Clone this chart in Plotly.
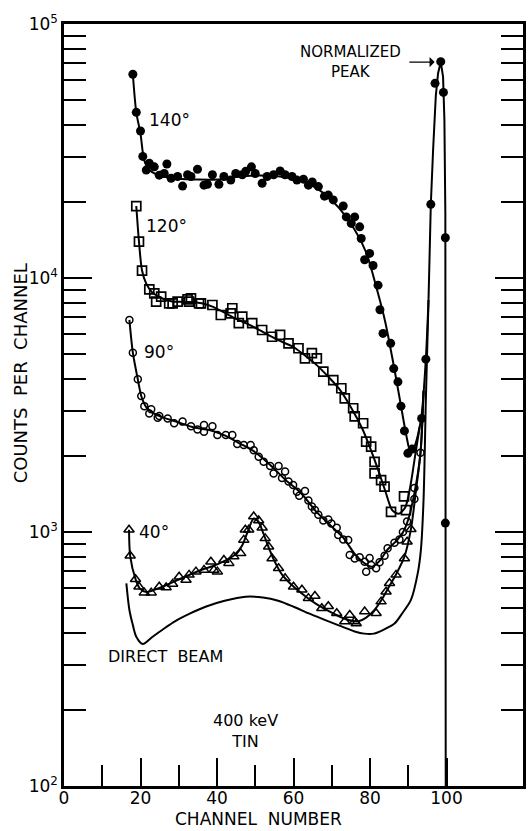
import plotly.graph_objects as go

# ---------------- data (channel, counts) ----------------
ch140 = [18.0, 18.9, 20.0, 20.6, 21.5, 22.3, 23.6, 24.9, 26.2, 26.9, 28.0, 29.7, 31.0, 32.3, 33.2,
         34.9, 36.6, 37.5, 38.8, 40.5, 41.8, 43.6, 44.9, 46.6, 47.5, 49.0, 50.0, 51.8, 53.1, 54.8,
         56.5, 57.8, 59.6, 60.9, 62.6, 63.9, 64.9, 66.5, 68.1, 69.1, 70.4, 73.0, 73.8, 75.1, 76.0,
         77.3, 77.7, 78.6, 79.9, 80.8, 82.1, 82.6, 83.4, 85.4, 86.2, 87.3, 88.1, 89.0, 89.9, 91.0,
         93.5, 94.6, 95.9, 97.0, 98.5, 99.2, 99.7, 99.7]
cnt140 = [63400, 44900, 37900, 30100, 26600, 28300, 27400, 25400, 25800, 28100, 24700, 25100, 23000,
          25500, 25100, 26800, 23200, 23400, 25500, 23400, 25100, 24300, 25800, 25500, 26300, 27400,
          25800, 23600, 25100, 25500, 26400, 25500, 25100, 24300, 24500, 23200, 23900, 22900, 21000,
          21200, 20300, 19200, 17400, 16400, 17400, 15900, 14300, 11800, 12500, 11200, 9370, 7500,
          6050, 5530, 4400, 3900, 3130, 2500, 2040, 2120, 2800, 4790, 19500, 58400, 71100, 53800,
          14400, 1084]

ch120 = [18.9, 19.6, 20.4, 22.3, 23.6, 24.1, 25.4, 27.5, 28.4, 29.7, 32.3, 32.7, 33.2, 35.3, 35.8,
         38.8, 41.0, 43.6, 44.0, 45.7, 46.6, 49.2, 51.8, 54.4, 56.5, 58.7, 61.3, 63.0, 64.8, 66.1,
         67.8, 70.4, 72.5, 73.4, 75.6, 76.0, 78.2, 79.0, 80.3, 81.2, 81.2, 82.9, 83.8, 85.5, 88.9, 89.4]
cnt120 = [19200, 13900, 10700, 9020, 8700, 8070, 8440, 7940, 7940, 8070, 8240, 8070, 8310, 7940, 7940,
          7830, 7150, 7260, 7600, 6640, 7050, 6640, 6240, 5870, 5970, 5530, 5290, 4830, 5060, 4830,
          4280, 3960, 3680, 3360, 3070, 2850, 2680, 2270, 2170, 1890, 1700, 1600, 1510, 1200, 1380, 1220]

ch90 = [17.1, 18.0, 19.3, 20.2, 21.0, 22.3, 22.8, 24.5, 24.9, 27.1, 28.8, 31.0, 33.2, 34.9, 36.6,
        36.6, 38.8, 40.1, 42.3, 44.0, 45.3, 47.0, 48.8, 49.6, 50.9, 52.2, 53.9, 54.8, 56.1, 57.0,
        57.8, 58.7, 59.9, 60.9, 61.5, 63.0, 63.9, 64.8, 65.6, 66.5, 67.8, 69.1, 69.9, 71.3, 71.7,
        73.0, 74.3, 74.7, 76.0, 77.3, 78.6, 79.0, 79.9, 80.3, 81.6, 82.5, 83.8, 84.6, 86.4, 87.7,
        88.6, 89.7, 91.6, 91.6, 93.2]
cnt90 = [6840, 5080, 3990, 3430, 3130, 2930, 3040, 2820, 2860, 2800, 2680, 2720, 2610, 2530, 2480,
         2640, 2610, 2410, 2410, 2410, 2220, 2200, 2200, 2100, 1980, 1890, 1820, 1700, 1820, 1630,
         1730, 1580, 1530, 1440, 1390, 1450, 1330, 1260, 1220, 1170, 1110, 1120, 1080, 1040, 973,
         935, 931, 811, 787, 795, 764, 698, 790, 741, 720, 760, 806, 863, 908, 935,
         1000, 1100, 1350, 1490, 2050]

ch40 = [17.0, 17.3, 18.7, 19.6, 21.0, 22.8, 24.9, 26.7, 28.4, 30.1, 31.9, 32.7, 34.5, 36.6, 38.4,
        39.2, 40.1, 41.8, 43.1, 44.4, 46.2, 47.0, 47.4, 48.3, 49.6, 50.9, 51.8, 52.6, 53.5, 54.4,
        56.1, 57.8, 60.0, 62.2, 63.9, 65.6, 67.4, 69.1, 71.3, 73.4, 74.7, 76.0, 76.4, 78.6, 81.6,
        82.9, 84.2, 85.1, 86.8, 89.0, 89.7, 90.7]
cnt40 = [1020, 806, 652, 609, 577, 577, 609, 605, 624, 667, 647, 678, 698, 708, 764,
         708, 698, 776, 754, 800, 824, 931, 1020, 1020, 1150, 1110, 1040, 944, 875, 787,
         720, 657, 609, 592, 549, 560, 501, 510, 479, 444, 471, 444, 436, 486, 479,
         532, 582, 628, 678, 787, 916, 1026]

# drawn curves
fit140_x = [18.0, 18.9, 20.0, 21.0, 22.5, 25, 30, 35, 40, 45, 50, 55, 60, 64, 68, 72, 76, 79,
            82, 84, 86, 88, 89.5, 90.5, 91.5, 92.5, 93.5, 94.6, 95.3]
fit140_y = [63400, 44900, 37000, 29000, 26500, 25300, 24600, 24400, 24400, 25000, 25300, 25200,
            24600, 23500, 21500, 18800, 15500, 12600, 8800, 6700, 4700, 3200, 2400, 2100, 2150,
            2400, 2900, 4800, 8200]
peak_x = [95.3, 95.9, 96.5, 97.2, 97.8, 98.5, 99.1, 99.45, 99.7, 99.75, 99.8]
peak_y = [8200, 19500, 32000, 52000, 64000, 71000, 62000, 42000, 18000, 3000, 80]
fit120_x = [18.9, 19.6, 20.4, 21.5, 23, 25, 28, 32, 36, 39, 42, 45, 48, 51, 54, 57, 60, 63, 66,
            69, 72, 75, 78, 80, 82, 84, 85.8, 87.5, 89.2, 90.5, 91.8, 93.0]
fit120_y = [19200, 13900, 10700, 9500, 8800, 8400, 8100, 8050, 7950, 7700, 7300, 6900, 6600, 6250,
            5900, 5600, 5350, 4950, 4550, 4100, 3650, 3100, 2550, 2150, 1780, 1450, 1220, 1180,
            1250, 1500, 2000, 2600]
fit90_x = [17.1, 18.0, 19.3, 20.2, 21.5, 23.5, 26, 30, 34, 38, 42, 46, 50, 54, 58, 62, 66, 70, 73,
           76, 78.5, 80.5, 82.5, 84.5, 86.5, 88.5, 90.0, 91.6, 93.2, 94.0]
fit90_y = [6840, 5080, 3990, 3430, 3100, 2930, 2820, 2700, 2580, 2520, 2400, 2230, 2060, 1830,
           1600, 1420, 1200, 1050, 950, 820, 755, 730, 770, 850, 910, 990, 1120, 1420, 2050, 3600]
fit40_x = [17.0, 17.3, 18.7, 19.8, 21.5, 24, 27, 30, 33, 36, 39, 42, 44.5, 46.5, 48, 49.6, 50.8,
           52, 53.5, 55, 57, 60, 63, 66, 69, 72, 75, 77, 79, 81, 83, 85, 87, 89, 90.7, 92, 93.2, 94.0]
fit40_y = [1020, 806, 652, 600, 580, 595, 620, 650, 680, 710, 735, 770, 810, 880, 1000, 1130, 1100,
           1000, 870, 770, 680, 610, 560, 520, 490, 465, 448, 445, 460, 490, 540, 610, 690, 800,
           1026, 1450, 2050, 3600]
beam_x = [16.3, 17.1, 18.0, 18.9, 20.6, 23, 26, 29, 33, 37, 42, 47.5, 52, 56, 60, 64, 68, 72, 76,
          78.5, 81, 83.5, 86.4, 88.5, 90.7, 92.5, 93.3, 94.0, 94.6, 95.3]
beam_y = [628, 493, 430, 387, 362, 385, 415, 445, 478, 508, 536, 556, 552, 536, 508, 478, 452, 428,
          406, 398, 398, 412, 436, 480, 540, 690, 849, 1340, 3310, 8200]

x_ticks = [0, 20, 40, 60, 80, 100]
x_ticklabels = ["0", "20", "40", "60", "80", "100"]
x_minor = [10, 30, 50, 70, 90]
y_ticks = [100, 1000, 10000, 100000]
y_ticklabels = ["10<sup>2</sup>", "10<sup>3</sup>", "10<sup>4</sup>", "10<sup>5</sup>"]
y_minor = [m * d for d in (100, 1000, 10000) for m in range(2, 10)]

FONT = "DejaVu Sans"
fig = go.Figure()

line_style = dict(color="black", width=2)
for fx, fy in [(fit140_x, fit140_y), (fit120_x, fit120_y), (fit90_x, fit90_y),
               (fit40_x, fit40_y), (beam_x, beam_y)]:
    fig.add_trace(go.Scatter(x=fx, y=fy, mode="lines",
                             line=dict(shape="spline", smoothing=0.8, **line_style),
                             hoverinfo="skip", showlegend=False))
fig.add_trace(go.Scatter(x=peak_x, y=peak_y, mode="lines", line=line_style, showlegend=False))

fig.add_trace(go.Scatter(x=ch140, y=cnt140, mode="markers", name="140°",
                         marker=dict(symbol="circle", size=9, color="black")))
fig.add_trace(go.Scatter(x=ch120, y=cnt120, mode="markers", name="120°",
                         marker=dict(symbol="square-open", size=9, color="black", line=dict(width=1.7))))
fig.add_trace(go.Scatter(x=ch90, y=cnt90, mode="markers", name="90°",
                         marker=dict(symbol="circle-open", size=7, color="black", line=dict(width=1.5))))
fig.add_trace(go.Scatter(x=ch40, y=cnt40, mode="markers", name="40°",
                         marker=dict(symbol="triangle-up-open", size=9, color="black", line=dict(width=1.5))))

fig.update_layout(
    width=532, height=831,
    margin=dict(l=64, r=6, t=24, b=45),
    paper_bgcolor="white", plot_bgcolor="white",
    showlegend=False,
    font=dict(family=FONT, color="black", size=16),
    xaxis=dict(range=[0, 120], showgrid=False, zeroline=False,
               showline=True, linecolor="black", linewidth=2.5, mirror=True,
               tickvals=x_ticks, ticktext=x_ticklabels, ticks="inside", ticklen=28,
               tickwidth=1.5, tickcolor="black", tickfont=dict(size=17, family=FONT),
               ticklabelstandoff=-5,
               minor=dict(tickvals=x_minor, ticks="inside", ticklen=21, tickwidth=1.5, tickcolor="black")),
    yaxis=dict(type="log", range=[2, 5], showgrid=False, zeroline=False,
               showline=True, linecolor="black", linewidth=2.5, mirror="ticks",
               tickvals=y_ticks, ticktext=y_ticklabels, ticks="inside", ticklen=28,
               tickwidth=1.5, tickcolor="black", tickfont=dict(size=17, family=FONT),
               minor=dict(tickvals=y_minor, ticks="inside", ticklen=22, tickwidth=1.5, tickcolor="black")),
)

def note(text, x, y, size=17, xanchor="center"):
    fig.add_annotation(text=text, x=x, y=y, xref="x", yref="y", showarrow=False,
                       xanchor=xanchor, yanchor="middle", font=dict(size=size, family=FONT))

note("140°", 21.8, 4.622, xanchor="left")
note("120°", 21.0, 4.205, xanchor="left")
note("90°", 20.5, 3.709, xanchor="left")
note("40°", 19.2, 3.0, xanchor="left")
note("DIRECT  BEAM", 26.5, 2.508, size=16)
note("400 keV<br>TIN", 47.5, 2.215, size=16)
note("NORMALIZED<br>PEAK", 75.0, 4.852, size=15)
fig.add_annotation(text="", x=96.9, y=4.85, ax=89.9, ay=4.85, xref="x", yref="y",
                   axref="x", ayref="y", showarrow=True, arrowhead=1, arrowsize=1.3,
                   arrowwidth=1.3, arrowcolor="black")

fig.add_annotation(text="CHANNEL  NUMBER", x=0.424, y=-0.043, xref="paper", yref="paper",
                   showarrow=False, xanchor="center", yanchor="middle", font=dict(size=17, family=FONT))
fig.add_annotation(text="COUNTS  PER  CHANNEL", x=-0.093, y=0.542, xref="paper", yref="paper",
                   showarrow=False, textangle=-90, xanchor="center", yanchor="middle",
                   font=dict(size=18, family=FONT))

fig.write_html("out.html", config={"displayModeBar": False},
               post_script="document.body.style.margin='0px';")
